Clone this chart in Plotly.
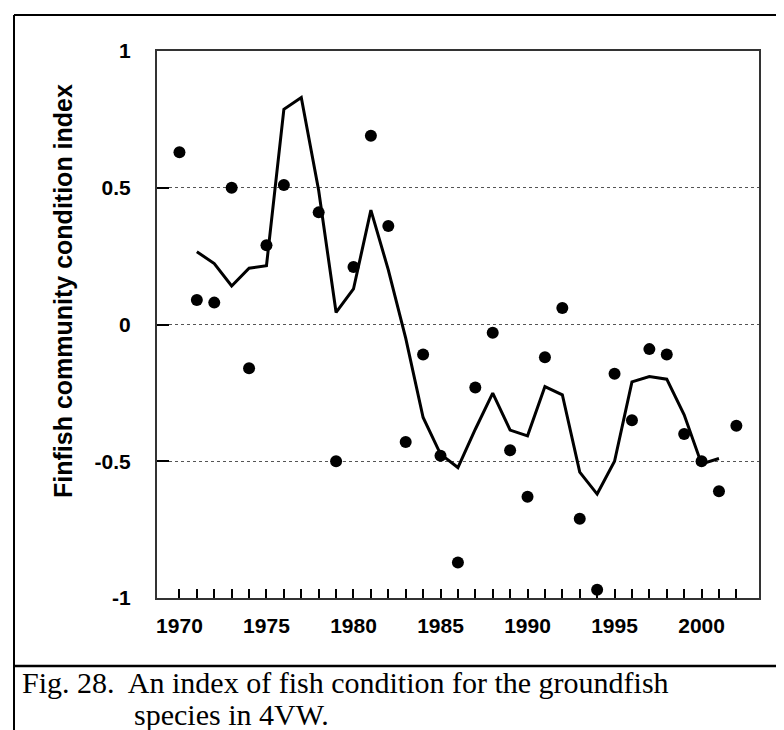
import plotly.graph_objects as go

# ---- data ----
years = list(range(1970, 2003))
condition_index = [0.63, 0.09, 0.08, 0.50, -0.16, 0.29, 0.51, None, 0.41, -0.50,
                   0.21, 0.69, 0.36, -0.43, -0.11, -0.48, -0.87, -0.23, -0.03, -0.46,
                   -0.63, -0.12, 0.06, -0.71, -0.97, -0.18, -0.35, -0.09, -0.11, -0.40,
                   -0.50, -0.61, -0.37]
smoothed = [None, 0.266, 0.223, 0.141, 0.206, 0.215, 0.787, 0.83, 0.49, 0.044,
            0.13, 0.418, 0.20, -0.05, -0.34, -0.474, -0.523, -0.383, -0.251, -0.386,
            -0.407, -0.227, -0.257, -0.54, -0.62, -0.50, -0.21, -0.19, -0.20, -0.33,
            -0.51, -0.49, None]
x_tick_text = [str(y) if y % 5 == 0 else "" for y in years]
y_tick_vals = [-1, -0.5, 0, 0.5, 1]
y_tick_text = ["-1", "-0.5", "0", "0.5", "1"]
y_title = "Finfish community condition index"
caption_1 = "Fig. 28.  An index of fish condition for the groundfish"
caption_2 = "species in 4VW."

W, H = 784, 730
L, R, T, B = 149, 751, 43, 590


def px(x):
    return (x - L) / (R - L)


def py(y):
    return (B - y) / (B - T)


fig = go.Figure()
fig.add_trace(go.Scatter(x=years, y=smoothed, mode="lines",
                         line=dict(color="black", width=3), connectgaps=False,
                         showlegend=False, hoverinfo="skip"))
fig.add_trace(go.Scatter(x=years, y=condition_index, mode="markers",
                         marker=dict(color="black", size=12), showlegend=False))

tick_font = dict(family="Liberation Sans, Arial, sans-serif", size=21, color="black",
                 weight="bold")

fig.update_layout(
    width=W, height=H,
    margin=dict(l=L, r=W - R, t=T, b=H - B),
    paper_bgcolor="white", plot_bgcolor="white",
    xaxis=dict(range=[1968.71, 2003.3], tickmode="array", tickvals=years,
               ticktext=x_tick_text, ticks="inside", ticklen=9, tickwidth=1.5,
               tickcolor="black", showgrid=False, zeroline=False,
               showline=True, linecolor="#333", linewidth=2, mirror=True,
               tickfont=tick_font, ticklabelstandoff=8),
    yaxis=dict(range=[-1, 1], tickmode="array", tickvals=y_tick_vals,
               ticktext=y_tick_text, ticks="inside", ticklen=12, tickwidth=2,
               tickcolor="black", showgrid=True, gridcolor="#555", gridwidth=1,
               griddash="dot", zeroline=False,
               showline=True, linecolor="#333", linewidth=2, mirror=True,
               tickfont=tick_font, ticklabelstandoff=20),
    font=dict(family="Liberation Sans, Arial, sans-serif", color="black"),
)

# y-axis title
fig.add_annotation(text="<b>" + y_title + "</b>", xref="paper", yref="paper",
                   x=px(55), y=py(283), textangle=-90, showarrow=False,
                   font=dict(size=25, family="Liberation Sans, Arial, sans-serif", color="black"),
                   xanchor="center", yanchor="middle")

# outer frame and caption separator
fig.add_shape(type="line", xref="paper", yref="paper", x0=px(6), x1=px(6), y0=py(7), y1=py(730),
              line=dict(color="black", width=2))
fig.add_shape(type="line", xref="paper", yref="paper", x0=px(782), x1=px(782), y0=py(7), y1=py(730),
              line=dict(color="black", width=2))
fig.add_shape(type="line", xref="paper", yref="paper", x0=px(6), x1=px(782), y0=py(7), y1=py(7),
              line=dict(color="black", width=2))
fig.add_shape(type="line", xref="paper", yref="paper", x0=px(6), x1=px(782), y0=py(658), y1=py(658),
              line=dict(color="black", width=2.5))

cap_font = dict(family="Liberation Serif, Times New Roman, serif", size=30, color="black")
fig.add_annotation(text=caption_1, xref="paper", yref="paper", x=px(12), y=py(674),
                   showarrow=False, xanchor="left", yanchor="middle", font=cap_font)
fig.add_annotation(text=caption_2, xref="paper", yref="paper", x=px(124), y=py(706),
                   showarrow=False, xanchor="left", yanchor="middle", font=cap_font)

fig.write_html("out.html")
